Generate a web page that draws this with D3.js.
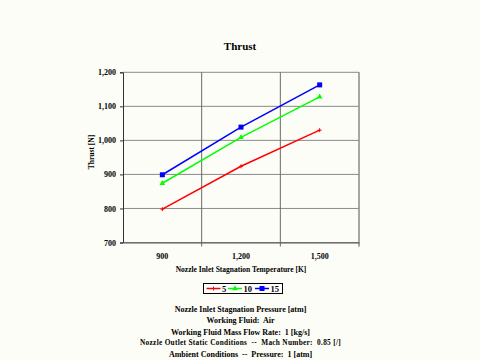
<!DOCTYPE html>
<html><head><meta charset="utf-8">
<script src="https://cdn.jsdelivr.net/npm/d3@7"></script>
<style>
body{margin:0;background:#fdfdf7;}
svg{display:block;}
text{font-family:"Liberation Serif","Times New Roman",serif;font-weight:bold;fill:#000;white-space:pre;}
</style></head>
<body><svg id="c" width="480" height="360"></svg>
<script>
const categories = [900, 1200, 1500];
const yTicks = [700, 800, 900, 1000, 1100, 1200];
const seriesNames = ["5", "10", "15"];
const seriesColors = ["#ff0000", "#00ff00", "#0000ff"];
const values5 = [798, 924, 1030];
const values10 = [874, 1009, 1128];
const values15 = [899, 1039, 1163];
const seriesValues = [values5, values10, values15];
const infoLines = [
  "Nozzle Inlet Stagnation Pressure [atm]",
  "Working Fluid:  Air",
  "Working Fluid Mass Flow Rate:  1 [kg/s]",
  "Nozzle Outlet Static Conditions  --  Mach Number:  0.85 [/]",
  "Ambient Conditions  --  Pressure:  1 [atm]"
];

const svg = d3.select("#c");
svg.append("rect").attr("width",480).attr("height",360).attr("fill","#fdfdf7");
const L=123, R=359, T=72.3, B=242.5;
const x = d3.scaleBand().domain(categories).range([L,R]);
const y = d3.scaleLinear().domain([700,1200]).range([B,T]);
const fmt = d3.format(",");

svg.append("g").selectAll("line").data(yTicks).join("line")
  .attr("x1",L).attr("x2",R).attr("y1",d=>y(d)).attr("y2",d=>y(d))
  .attr("stroke","#8a8a8a").attr("stroke-width",1);
const bounds = categories.slice(1).map(c=>x(c)).concat([R]);
svg.append("g").selectAll("line").data(bounds).join("line")
  .attr("x1",d=>d).attr("x2",d=>d).attr("y1",T).attr("y2",B+4)
  .attr("stroke","#6a6a6a").attr("stroke-width",1);
svg.append("line").attr("x1",R).attr("x2",R).attr("y1",T).attr("y2",B+4).attr("stroke","#9a9a9a");

const ya = svg.append("g").attr("transform",`translate(${L},0)`)
  .call(d3.axisLeft(y).tickValues(yTicks).tickFormat(fmt).tickSize(3).tickPadding(4));
ya.select(".domain").attr("stroke","#333");
ya.selectAll(".tick line").attr("stroke","#333");
ya.selectAll("text").style("font-size","8px").style("font-family","Liberation Serif").style("font-weight","bold").attr("fill","#000");

const xa = svg.append("g").attr("transform",`translate(0,${B})`)
  .call(d3.axisBottom(x).tickFormat(fmt).tickSize(0).tickPadding(11));
xa.select(".domain").attr("stroke","#555");
xa.selectAll("text").style("font-size","8px").style("font-family","Liberation Serif").style("font-weight","bold").attr("fill","#000");

const line = d3.line().x((d,i)=>x(categories[i])+x.bandwidth()/2).y(d=>y(d));
function marker(g, si, cx, cy, col){
  if(si===0){
    g.append("path").attr("d",`M${cx-2},${cy}H${cx+2}M${cx},${cy-2}V${cy+2}`).attr("stroke",col).attr("stroke-width",1);
  } else if(si===1){
    g.append("path").attr("d",d3.symbol(d3.symbolTriangle,14)()).attr("transform",`translate(${cx},${cy})`).attr("fill",col);
  } else {
    g.append("rect").attr("x",cx-2.5).attr("y",cy-2.5).attr("width",5).attr("height",5).attr("fill",col);
  }
}
seriesValues.forEach((vals,si)=>{
  const col = seriesColors[si];
  svg.append("path").datum(vals).attr("d",line).attr("fill","none").attr("stroke",col).attr("stroke-width",1.5);
  const g = svg.append("g");
  vals.forEach((v,i)=>marker(g, si, x(categories[i])+x.bandwidth()/2, y(v), col));
});

svg.append("text").attr("x",240).attr("y",50).attr("text-anchor","middle").style("font-size","11px").text("Thrust");
svg.append("text").attr("transform",`translate(94,152) rotate(-90)`).attr("text-anchor","middle").style("font-size","7.5px").text("Thrust [N]");
svg.append("text").attr("x",241).attr("y",271.5).attr("text-anchor","middle").style("font-size","7.5px").text("Nozzle Inlet Stagnation Temperature [K]");

const lg = svg.append("g");
lg.append("rect").attr("x",203.5).attr("y",283.5).attr("width",79).attr("height",10).attr("fill","#fff").attr("stroke","#000").attr("stroke-width",1);
const lx = [206.5, 228, 255];
seriesNames.forEach((n,i)=>{
  const col = seriesColors[i], cy = 288.5, x0 = lx[i];
  lg.append("line").attr("x1",x0).attr("x2",x0+14).attr("y1",cy).attr("y2",cy).attr("stroke",col).attr("stroke-width",1.5);
  marker(lg, i, x0+7, cy, col);
  lg.append("text").attr("x",x0+15.5).attr("y",cy+3).style("font-size","8.5px").text(n);
});

const infoY = [311.5, 323, 334.5, 344.5, 356.5];
const infoSize = [8, 8, 8, 7.3, 8];
const infoSpacing = [0, 0, 0, 0.3, 0];
infoLines.forEach((t,i)=>{
  svg.append("text").attr("x",240.5).attr("y",infoY[i]).attr("text-anchor","middle")
    .style("font-size",infoSize[i]+"px").style("letter-spacing",infoSpacing[i]+"px").text(t);
});
</script></body></html>
